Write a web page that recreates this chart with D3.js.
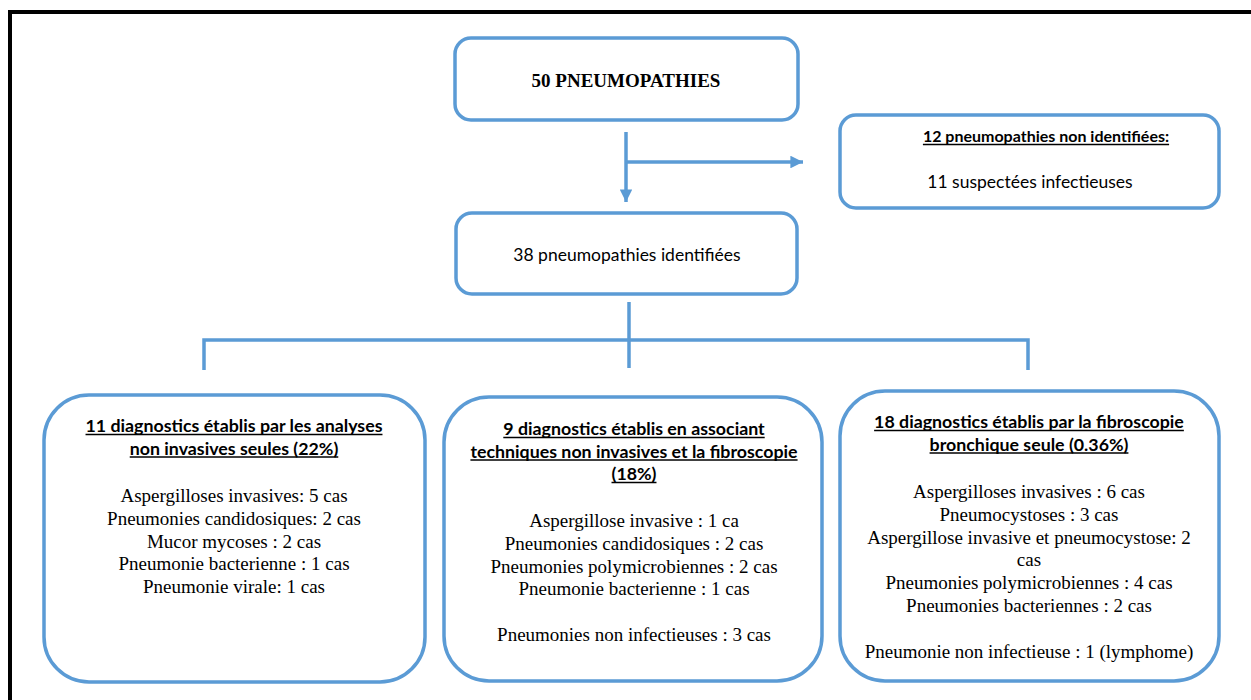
<!DOCTYPE html>
<html>
<head>
<meta charset="utf-8">
<script src="https://cdn.jsdelivr.net/npm/d3@7"></script>
<style>
  html, body { margin: 0; padding: 0; background: #fff; }
  svg { display: block; }
</style>
</head>
<body>
<svg id="chart" width="1251" height="700"></svg>
<script>
// ── data: texts of the flowchart ──
const rootLabel = "50 PNEUMOPATHIES";
const unidentifiedTitle = "12 pneumopathies non identifiées:";
const unidentifiedLines = ["11 suspectées infectieuses"];
const identifiedLabel = "38 pneumopathies identifiées";

const branchTitles = [
  ["11 diagnostics établis par les analyses", "non invasives seules (22%)"],
  ["9 diagnostics établis en associant", "techniques non invasives et la fibroscopie", "(18%)"],
  ["18 diagnostics établis par la fibroscopie", "bronchique seule (0.36%)"]
];
const branchItems = [
  ["Aspergilloses invasives: 5 cas", "Pneumonies candidosiques: 2 cas", "Mucor mycoses : 2 cas",
   "Pneumonie bacterienne : 1 cas", "Pneumonie virale: 1 cas"],
  ["Aspergillose invasive : 1 ca", "Pneumonies candidosiques : 2 cas", "Pneumonies polymicrobiennes : 2 cas",
   "Pneumonie bacterienne : 1 cas", "", "Pneumonies non infectieuses : 3 cas"],
  ["Aspergilloses invasives : 6 cas", "Pneumocystoses : 3 cas", "Aspergillose invasive et pneumocystose: 2",
   "cas", "Pneumonies polymicrobiennes : 4 cas", "Pneumonies bacteriennes : 2 cas", "",
   "Pneumonie non infectieuse : 1 (lymphome)"]
];

// ── layout ──
const blue = "#5b9bd5";
const serif = "Liberation Serif";
const sans = "Lato";
const svg = d3.select("#chart");

// black frame
svg.append("path")
  .attr("d", "M10,700 V12 H1251")
  .attr("fill", "none")
  .attr("stroke", "#000")
  .attr("stroke-width", 4);

// arrow marker
svg.append("defs").append("marker")
  .attr("id", "arrow")
  .attr("viewBox", "0 0 10 10")
  .attr("refX", 10).attr("refY", 5)
  .attr("markerWidth", 3.6).attr("markerHeight", 3.6)
  .attr("markerUnits", "strokeWidth")
  .attr("orient", "auto")
  .append("path")
  .attr("d", "M0,0 L10,5 L0,10 Z")
  .attr("fill", blue);

function box(x, y, w, h, r) {
  svg.append("rect")
    .attr("x", x).attr("y", y).attr("width", w).attr("height", h)
    .attr("rx", r).attr("ry", r)
    .attr("fill", "#fff")
    .attr("stroke", blue)
    .attr("stroke-width", 3.5);
}

function label(x, y, txt, opts) {
  const t = svg.append("text")
    .attr("x", x).attr("y", y)
    .attr("text-anchor", "middle")
    .style("font-family", opts.font)
    .style("font-size", opts.size + "px")
    .style("font-weight", opts.bold ? "bold" : "normal")
    .attr("fill", "#000")
    .text(txt);
  if (opts.underline && txt) {
    const w = t.node().getComputedTextLength();
    svg.append("line")
      .attr("x1", x - w / 2).attr("x2", x + w / 2)
      .attr("y1", y + 2.5).attr("y2", y + 2.5)
      .attr("stroke", "#000").attr("stroke-width", 1.3);
  }
  return t;
}

function link(points, arrow) {
  const p = svg.append("path")
    .attr("d", d3.line()(points))
    .attr("fill", "none")
    .attr("stroke", blue)
    .attr("stroke-width", 3.5);
  if (arrow) p.attr("marker-end", "url(#arrow)");
}

// connectors
link([[626, 132], [626, 202]], true);
link([[626, 162], [803, 162]], true);
link([[629, 302], [629, 368]]);
link([[204, 370], [204, 340], [1028, 340], [1028, 370]]);

// top boxes
box(455, 38, 343, 82, 16);
label(626, 87, rootLabel, { font: serif, size: 19, bold: true });

box(840, 115, 379, 93, 16);
label(1046, 142, unidentifiedTitle, { font: sans, size: 16, bold: true, underline: true });
unidentifiedLines.forEach((l, i) => label(1030, 188 + i * 22, l, { font: sans, size: 17.5 }));

box(456, 213, 341, 81, 16);
label(627, 261, identifiedLabel, { font: sans, size: 17.5 });

// bottom branch boxes
const branchBoxes = [
  { x: 44, y: 395, w: 381, h: 287, cx: 234, titleY: 432, itemY: 502 },
  { x: 444, y: 397, w: 378, h: 284, cx: 634, titleY: 435, itemY: 527 },
  { x: 840, y: 391, w: 379, h: 290, cx: 1029, titleY: 428, itemY: 498 }
];
const titleStep = 22.5, itemStep = 22.8;

branchBoxes.forEach((b, i) => {
  box(b.x, b.y, b.w, b.h, 45);
  branchTitles[i].forEach((l, j) =>
    label(b.cx, b.titleY + j * titleStep, l, { font: sans, size: 17.8, bold: true, underline: true }));
  branchItems[i].forEach((l, j) =>
    label(b.cx, b.itemY + j * itemStep, l, { font: serif, size: 19 }));
});
</script>
</body>
</html>
